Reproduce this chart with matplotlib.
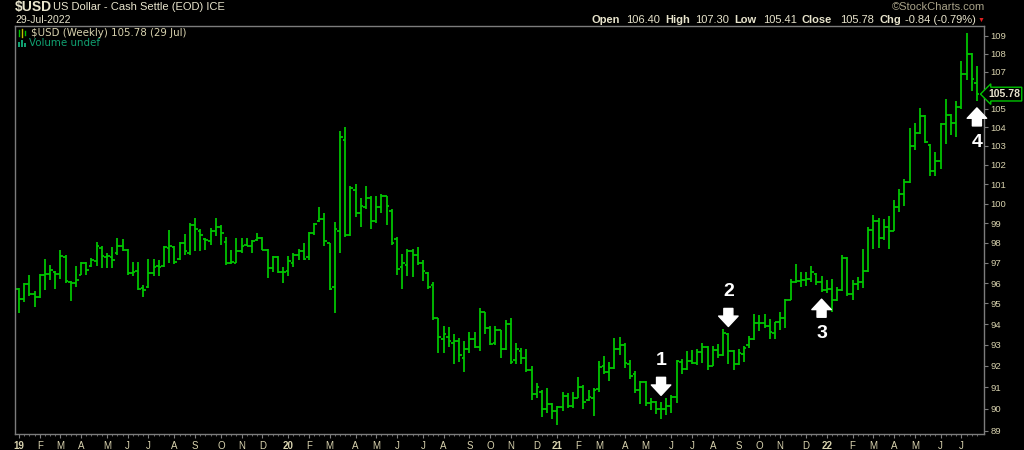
import numpy as np
import pandas as pd
import matplotlib
matplotlib.use("Agg")
import matplotlib.pyplot as plt
from matplotlib.ticker import NullLocator

plt.rcParams['font.family'] = ['Liberation Sans', 'DejaVu Sans']

# --- weekly OHLC of $USD, week starting 2019-01-07 ---
opens = [95.70, 95.20, 95.95, 95.45, 95.30, 96.40, 96.45, 96.55, 96.45, 97.30,
         96.05, 96.00, 96.40, 97.00, 96.85, 97.10, 97.75, 97.30, 97.30, 97.50,
         97.85, 97.65, 96.50, 96.60, 95.75, 95.80, 96.50, 96.85, 96.85, 97.75,
         97.80, 97.20, 98.00, 97.50, 98.90, 98.60, 98.20, 98.10, 98.60, 98.82,
         98.07, 97.00, 97.00, 97.57, 97.90, 97.85, 98.15, 98.25, 97.65, 96.75,
         97.30, 96.55, 96.60, 97.00, 97.40, 97.60, 97.30, 98.50, 99.10, 99.20,
         98.00, 95.80, 98.60, 103.30, 98.40, 100.70, 99.50, 99.80, 100.30, 99.10,
         99.80, 100.40, 99.60, 98.20, 96.80, 96.90, 97.60, 97.40, 97.00, 96.50,
         95.90, 94.30, 93.30, 93.40, 93.10, 93.20, 92.40, 92.80, 93.30, 92.90,
         94.60, 93.80, 93.10, 93.70, 92.80, 94.00, 92.30, 92.70, 92.40, 91.80,
         90.70, 90.80, 90.00, 90.20, 89.90, 90.10, 90.60, 90.15, 90.50, 91.00,
         90.40, 90.50, 90.90, 92.00, 91.70, 91.90, 92.80, 93.00, 92.10, 91.60,
         90.85, 91.25, 90.25, 90.30, 90.00, 90.00, 90.15, 90.55, 92.20, 91.85,
         92.25, 92.15, 92.65, 92.90, 92.00, 92.75, 92.50, 93.50, 92.70, 92.10,
         92.55, 93.00, 93.30, 94.05, 94.05, 93.90, 93.55, 94.10, 94.30, 95.15,
         96.05, 96.10, 96.15, 96.20, 96.45, 96.05, 95.65, 95.70, 95.15, 95.65,
         97.25, 95.45, 95.95, 96.05, 96.60, 98.65, 99.10, 98.25, 98.80, 98.60,
         99.80, 100.50, 101.10, 103.00, 103.70, 104.60, 103.05, 101.70, 102.20, 104.15,
         104.65, 104.20, 105.10, 106.90, 108.00, 106.40]
highs = [95.75, 96.00, 96.38, 95.59, 96.46, 97.19, 96.89, 96.62, 97.65, 97.40,
         96.08, 96.87, 97.02, 97.02, 97.24, 98.07, 97.82, 97.49, 97.77, 98.24,
         98.20, 97.69, 97.04, 97.02, 95.92, 97.19, 97.19, 97.15, 97.82, 98.65,
         97.85, 98.07, 98.44, 98.99, 99.28, 98.69, 98.24, 98.74, 99.28, 98.90,
         98.32, 97.65, 98.24, 98.24, 98.27, 98.15, 98.49, 98.29, 97.69, 97.35,
         97.32, 96.82, 97.32, 97.49, 97.69, 97.98, 98.57, 98.99, 99.80, 99.54,
         98.01, 99.08, 103.80, 104.00, 100.90, 101.00, 100.30, 100.90, 100.40, 100.40,
         100.50, 100.40, 99.70, 98.30, 97.45, 97.70, 97.70, 97.80, 97.15, 96.55,
         96.05, 94.30, 93.90, 93.85, 93.50, 93.35, 93.20, 93.60, 93.60, 94.80,
         94.60, 93.90, 93.90, 93.70, 94.20, 94.30, 93.10, 92.85, 92.80, 92.00,
         91.20, 90.85, 90.95, 90.25, 90.15, 90.80, 90.75, 90.80, 91.50, 91.10,
         90.85, 90.95, 92.25, 92.45, 92.20, 93.35, 93.40, 93.10, 92.30, 91.75,
         91.30, 91.30, 90.50, 90.35, 90.30, 90.50, 90.65, 92.30, 92.35, 92.70,
         92.75, 92.80, 93.10, 92.95, 92.95, 93.05, 93.75, 93.55, 92.75, 92.80,
         92.95, 93.45, 94.50, 94.45, 94.50, 94.25, 94.10, 94.60, 95.20, 96.20,
         96.95, 96.55, 96.55, 96.85, 96.50, 96.35, 96.15, 96.20, 95.80, 97.40,
         97.30, 96.15, 96.30, 97.70, 98.80, 99.40, 99.25, 99.20, 99.35, 100.20,
         100.75, 101.25, 103.95, 104.20, 105.05, 104.65, 103.10, 102.70, 104.20, 105.50,
         104.70, 105.40, 107.60, 109.15, 108.05, 107.30]
lows = [94.56, 95.05, 95.37, 94.83, 95.29, 95.64, 96.16, 95.70, 96.20, 96.00,
        95.13, 95.83, 96.38, 96.38, 96.82, 96.87, 96.77, 96.77, 96.77, 97.40,
        97.57, 96.41, 96.33, 95.67, 95.34, 95.75, 96.33, 96.33, 96.82, 96.99,
        96.96, 97.12, 97.40, 97.40, 97.57, 97.57, 97.65, 97.90, 98.35, 97.90,
        96.90, 96.94, 96.99, 97.49, 97.85, 97.49, 98.12, 97.65, 96.24, 96.57,
        96.49, 96.00, 96.33, 96.82, 97.15, 97.15, 97.15, 98.40, 99.08, 97.85,
        95.67, 94.56, 97.50, 98.30, 98.35, 99.30, 98.80, 99.70, 98.70, 99.00,
        99.50, 98.90, 97.90, 96.40, 95.70, 96.35, 96.30, 96.90, 96.10, 95.70,
        94.20, 92.60, 92.60, 92.90, 92.10, 92.20, 91.70, 92.60, 92.85, 92.70,
        93.50, 93.00, 93.00, 92.40, 92.75, 92.10, 92.10, 92.10, 91.70, 90.40,
        90.50, 89.60, 89.80, 89.55, 89.25, 89.90, 90.05, 90.05, 90.50, 90.00,
        90.35, 89.65, 90.80, 91.60, 91.30, 91.85, 92.50, 91.90, 91.40, 90.75,
        90.20, 90.15, 89.95, 89.75, 89.55, 89.70, 89.80, 90.25, 91.60, 91.80,
        92.10, 92.05, 92.15, 91.80, 92.00, 92.40, 92.45, 92.10, 91.80, 92.05,
        92.20, 92.85, 93.25, 93.65, 93.80, 93.30, 93.30, 93.70, 93.80, 95.15,
        96.00, 95.80, 95.85, 96.05, 95.90, 95.55, 95.50, 94.60, 95.10, 95.60,
        95.35, 95.15, 95.65, 95.75, 96.55, 97.70, 97.75, 98.15, 97.70, 98.60,
        99.55, 99.85, 101.05, 102.80, 103.65, 103.15, 101.40, 101.45, 101.80, 103.10,
        103.60, 103.45, 105.00, 106.55, 105.95, 105.41]
closes = [95.20, 95.95, 95.45, 95.30, 96.40, 96.45, 96.66, 96.45, 97.32, 96.10,
          96.00, 96.16, 97.00, 96.63, 97.15, 97.82, 97.32, 97.32, 97.15, 97.82,
          97.65, 96.49, 96.57, 95.70, 95.67, 96.49, 96.82, 96.82, 97.77, 97.85,
          97.05, 98.02, 97.60, 98.90, 98.70, 98.40, 98.15, 98.60, 98.82, 98.49,
          96.99, 97.02, 97.57, 97.85, 97.85, 98.10, 98.24, 97.65, 96.74, 97.30,
          96.57, 96.57, 97.07, 97.40, 97.60, 97.20, 98.52, 98.95, 99.20, 98.10,
          95.70, 98.70, 103.50, 98.40, 100.80, 99.50, 99.90, 100.30, 99.10, 99.80,
          100.40, 99.90, 98.00, 96.70, 97.00, 97.60, 97.40, 97.00, 96.60, 95.80,
          94.30, 93.40, 93.50, 93.20, 93.20, 92.50, 92.80, 93.30, 92.90, 94.60,
          93.80, 93.05, 93.70, 92.80, 94.00, 92.20, 92.80, 92.40, 91.80, 90.70,
          91.00, 90.00, 90.20, 89.90, 90.10, 90.60, 90.15, 90.50, 91.00, 90.30,
          90.55, 90.85, 91.95, 91.70, 91.90, 92.80, 93.00, 92.15, 91.55, 90.85,
          91.25, 90.25, 90.30, 90.00, 90.00, 90.15, 90.55, 92.25, 91.85, 92.25,
          92.15, 92.65, 92.90, 92.00, 92.75, 92.50, 93.55, 92.70, 92.10, 92.60,
          92.85, 93.30, 94.05, 94.05, 93.90, 93.60, 94.10, 94.30, 95.15, 96.05,
          96.10, 96.15, 96.20, 96.55, 96.05, 95.65, 95.70, 95.15, 95.65, 97.25,
          95.45, 95.95, 96.05, 96.60, 98.65, 99.10, 98.25, 98.80, 98.60, 99.80,
          100.50, 101.10, 103.00, 103.70, 104.60, 103.20, 101.70, 102.20, 104.15, 104.65,
          104.20, 105.10, 106.90, 108.00, 106.62, 105.78]

month_labels = ["19", "F", "M", "A", "M", "J", "J", "A", "S", "O", "N", "D",
                "20", "F", "M", "A", "M", "J", "J", "A", "S", "O", "N", "D",
                "21", "F", "M", "A", "M", "J", "J", "A", "S", "O", "N", "D",
                "22", "F", "M", "A", "M", "J", "J"]
price_ticks = list(range(89, 110))
# numbered arrows: label, bar index, direction
marks = [("1", 124, "down"), ("2", 137, "down"), ("3", 155, "up"), ("4", 185, "up")]

GREEN = "#00c400"
TXT = "#d8d2ae"
FRAME = "#7c7c7c"

W, H = 1024, 450
dates = pd.date_range("2019-01-07", periods=len(closes), freq="7D")
idx = np.arange(len(closes))

fig = plt.figure(figsize=(W / 100, H / 100), dpi=100, facecolor="black")
ax = fig.add_axes([15 / W, 15.7 / H, 969 / W, 408.6 / H])
ax.set_facecolor("black")

# OHLC bars
ax.vlines(idx, lows, highs, color=GREEN, lw=1.3)
ax.hlines(opens, idx - 0.5, idx, color=GREEN, lw=1.3)
ax.hlines(closes, idx, idx + 0.5, color=GREEN, lw=1.3)

ax.set_yscale("log")
ax.set_ylim(88.83, 109.56)
ax.set_xlim(-0.77, 186.37)

# right price axis; the label under the last-value tag is hidden as in the original
ax.yaxis.tick_right()
ax.set_yticks(price_ticks)
ax.set_yticklabels(["" if p == 106 else str(p) for p in price_ticks])
ax.yaxis.set_minor_locator(NullLocator())
ax.tick_params(axis="y", colors=FRAME, labelcolor=TXT, length=3, width=0.8,
               labelsize=6.8, pad=1.5)

# month axis
month_pos = [0] + [i for i in range(1, len(dates)) if dates[i].month != dates[i - 1].month]
ax.set_xticks(month_pos)
ax.set_xticklabels(month_labels)
for lab in ax.get_xticklabels():
    if len(lab.get_text()) == 2:
        lab.set_fontweight("bold")
ax.set_xticks(idx, minor=True)
ax.tick_params(axis="x", which="major", colors=FRAME, labelcolor=TXT, length=3,
               width=0.8, labelsize=7, pad=1.5)
ax.tick_params(axis="x", which="minor", colors=FRAME, length=1.5, width=0.6)
for s in ax.spines.values():
    s.set_color(FRAME)
    s.set_linewidth(1.0)

# last value tag
ax.text(1.004, closes[-1], "105.78", transform=ax.get_yaxis_transform(),
        ha="left", va="center", fontsize=7.5, fontweight="bold", color="#e6e2cc",
        zorder=10, clip_on=False,
        bbox=dict(boxstyle="larrow,pad=0.18", fc="black", ec=GREEN, lw=1))

# numbered arrows
for lab, i, d in marks:
    if d == "down":
        y, sgn = highs[i], 1
    else:
        y, sgn = lows[i], -1
    ax.annotate("", xy=(i, y), xytext=(0, sgn * 18), textcoords="offset points",
                arrowprops=dict(arrowstyle="simple,head_length=0.75,head_width=1.4,tail_width=0.65",
                                fc="white", ec="white", mutation_scale=10,
                                shrinkA=0, shrinkB=5))
    ax.annotate(lab, xy=(i, y), xytext=(0, sgn * 30), textcoords="offset points",
                ha="center", va="center", fontsize=14, fontweight="bold", color="white")


def px_text(x, y, s, **kw):
    fig.text(x / W, 1 - y / H, s, va="center", **kw)


# header
px_text(15, 7, "$USD", fontsize=10, fontweight="bold", color="#e8e4cc")
px_text(53, 7, "US Dollar - Cash Settle (EOD) ICE", fontsize=8, color="#e8e4cc")
px_text(15, 20, "29-Jul-2022", fontsize=7.5, color="#e8e4cc")
px_text(985, 7, "\u00a9StockCharts.com", fontsize=8, color="#a8a288", ha="right")

hdr = [(592, "Open", True), (626, "106.40", False), (665, "High", True),
       (695, "107.30", False), (734, "Low", True), (763, "105.41", False),
       (802, "Close", True), (840, "105.78", False), (879, "Chg", True),
       (905, "-0.84 (-0.79%)", False)]
for x, s, b in hdr:
    px_text(x, 20, s, fontsize=8, color="#e8e4cc",
            fontweight="bold" if b else "normal")
px_text(978, 20, "\u25bc", fontsize=5, color="#e02020")

# legend inside the chart
px_text(31, 33, "$USD (Weekly) 105.78 (29 Jul)", fontsize=7.4, color=TXT,
        family="DejaVu Sans")
px_text(29, 43, "Volume undef", fontsize=7.4, color="#10a070", family="DejaVu Sans")
for k, (x0, y0, y1) in enumerate([(19, 30, 36), (22, 29, 37), (25, 31, 35)]):
    fig.add_artist(plt.Line2D([x0 / W, x0 / W], [1 - y0 / H, 1 - y1 / H],
                              color=GREEN if k != 1 else "#c0c000", lw=1))
for x0, h in [(19, 5), (22, 7), (25, 4)]:
    fig.patches.append(plt.Rectangle((x0 / W - 1 / W, 1 - 47 / H), 2.2 / W, h / H,
                                     transform=fig.transFigure, fc="#10a070", ec="none"))

fig.savefig("out.png", dpi=100, facecolor="black")
